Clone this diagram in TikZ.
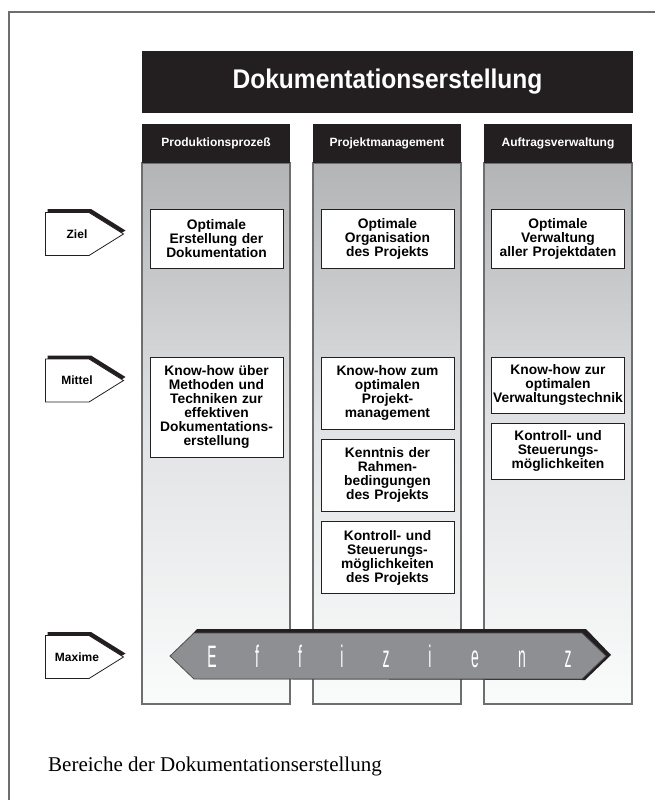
\documentclass[tikz,border=0pt]{standalone}
\usepackage{fontspec}
\setmainfont{Liberation Serif}
\newfontfamily\helv{Liberation Sans}
\newfontfamily\titelschrift[FakeStretch=0.91]{Liberation Sans}
\newfontfamily\schmal[FakeStretch=0.45]{Liberation Sans}
\usepackage{xcolor}
\usepackage{tikz}
\definecolor{balken}{HTML}{231F20}
\definecolor{rahmen}{HTML}{6D6E70}
\definecolor{saeuleoben}{HTML}{B3B4B6}
\definecolor{saeulemitte}{HTML}{E2E3E4}
\definecolor{saeuleunten}{HTML}{FAFBFB}
\definecolor{pfeilgrau}{HTML}{8E8F92}

\begin{document}
\begin{tikzpicture}[x=1pt,y=-1pt,
    kopf/.style={fill=balken,text=white,minimum width=148pt,minimum height=39pt,inner sep=0pt,font=\helv\bfseries\fontsize{12}{14}\selectfont},
    saeule/.style={draw=rahmen,line width=1.2pt,top color=saeuleoben,bottom color=saeuleunten,middle color=saeulemitte,minimum width=148pt,minimum height=541pt,inner sep=0pt},
    inhalt/.style={draw=balken,line width=0.9pt,fill=white,text width=130pt,inner xsep=1.5pt,inner ysep=0pt,align=center,font=\helv\bfseries\fontsize{13.8}{14}\selectfont},
    marke/.style={inner sep=0pt,font=\helv\bfseries\fontsize{12}{14}\selectfont},
    buchstabe/.style={text=white,anchor=base,inner sep=0pt,font=\schmal\fontsize{31}{34}\selectfont}]
    \useasboundingbox (0,0) rectangle (655,800);
    \draw[rahmen,line width=1.2pt] (9,800) -- (9,12) -- (655,12);

    \node[fill=balken,text=white,minimum width=491pt,minimum height=62pt,inner sep=0pt,font=\titelschrift\bfseries\fontsize{27}{30}\selectfont] (titel) at (387.5,82) {Dokumentationserstellung};

    \foreach \x/\n/\t in {216/1/Produktionsprozeß, 387/2/Projektmanagement, 558/3/Auftragsverwaltung} {
        \node[saeule] (s\n) at (\x,433.5) {};
        \node[kopf] (k\n) at (\x,143.5) {\t};
    }

    \node[inhalt,minimum height=59pt] (z1) at (216.5,238.5) {Optimale\\Erstellung der\\Dokumentation};
    \node[inhalt,minimum height=59pt] (z2) at (387.5,238.5) {Optimale\\Organisation\\des Projekts};
    \node[inhalt,minimum height=59pt] (z3) at (558,238.5) {Optimale\\Verwaltung\\aller Projektdaten};

    \node[inhalt,minimum height=100pt] (m1) at (216.5,407) {Know-how über\\Methoden und\\Techniken zur\\effektiven\\Dokumentations-\\erstellung};
    \node[inhalt,minimum height=72pt] (m2) at (387.5,393) {Know-how zum\\optimalen\\Projekt-\\management};
    \node[inhalt,minimum height=72pt] (m3) at (387.5,475) {Kenntnis der\\Rahmen-\\bedingungen\\des Projekts};
    \node[inhalt,minimum height=72pt] (m4) at (387.5,557.5) {Kontroll- und\\Steuerungs-\\möglichkeiten\\des Projekts};
    \node[inhalt,minimum height=56pt] (m5) at (558,385) {Know-how zur\\optimalen\\Verwaltungstechnik};
    \node[inhalt,minimum height=56pt] (m6) at (558,451) {Kontroll- und\\Steuerungs-\\möglichkeiten};

    \foreach \y/\t in {234/Ziel, 380.5/Mittel, 657/Maxime} {
        \fill[balken,shift={(2,-3.5)}] (45.5,\y-21.5) -- (89,\y-21.5) -- (123.5,\y) -- (89,\y+21.5) -- (45.5,\y+21.5) -- cycle;
        \draw[balken,line width=0.8pt,fill=white] (45.5,\y-21.5) -- (89,\y-21.5) -- (123.5,\y) -- (89,\y+21.5) -- (45.5,\y+21.5) -- cycle;
        \node[marke] (\t) at (77,\y) {\t};
    }

    \fill[balken] (178,650) -- (197,629) -- (586,629) -- (611,655) -- (585,680) -- (200,679) -- cycle;
    \draw[fill=pfeilgrau,draw=balken!80,line width=0.8pt] (170,656) -- (194,633) -- (582,633) -- (606,656) -- (582,679) -- (194,679) -- cycle;
    \foreach \x/\b [count=\i] in {212/E, 257/f, 300/f, 342/i, 386/z, 430/i, 475/e, 522/n, 568/z}
        \node[buchstabe] (b\i) at (\x,667) {\b};

    \node[anchor=base west,inner sep=0pt,font=\fontsize{21}{25}\selectfont] (unterschrift) at (48,771) {Bereiche der Dokumentationserstellung};
\end{tikzpicture}
\end{document}
